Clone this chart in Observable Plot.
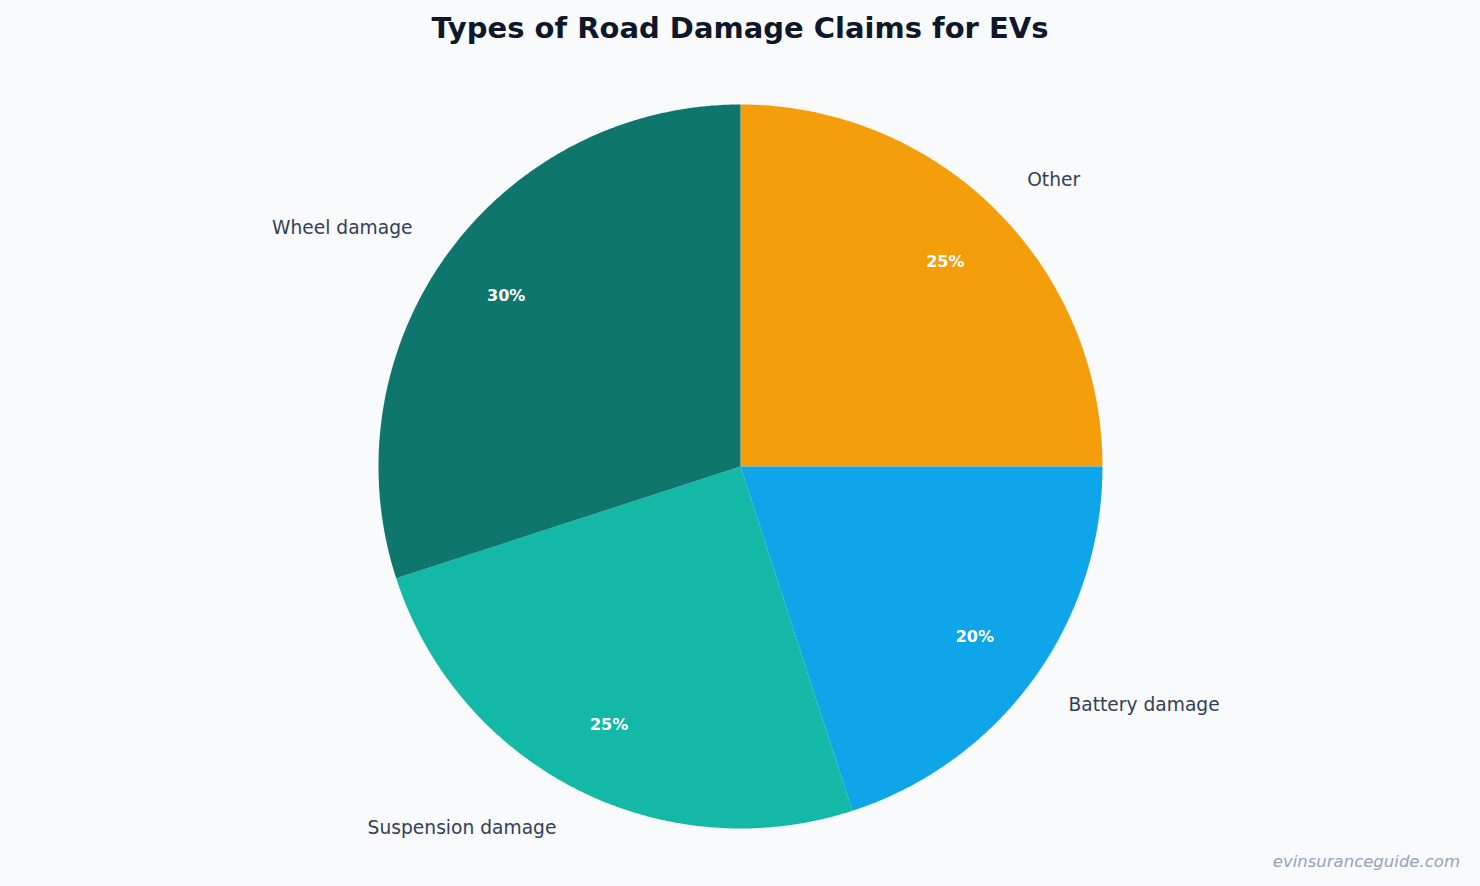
<!DOCTYPE html>
<html>
<head>
<meta charset="utf-8">
<script src="https://cdn.jsdelivr.net/npm/d3@7"></script>
<script src="https://cdn.jsdelivr.net/npm/@observablehq/plot@0.6"></script>
<style>
  html, body { margin: 0; padding: 0; background: #f8fafc; }
  body { width: 1480px; height: 886px; position: relative; overflow: hidden; font-family: "DejaVu Sans", sans-serif; }
  #title { height: 56px; line-height: 56px; text-align: center; font-size: 29px; font-weight: bold; color: #0f172a; }
  #caption { position: absolute; right: 20px; top: 852px; font-size: 16.5px; font-style: italic; color: #94a3b8; }
  svg { display: block; }
</style>
</head>
<body>
<div id="title">Types of Road Damage Claims for EVs</div>
<div id="chart"></div>
<div id="caption">evinsuranceguide.com</div>
<script>
const categories = ["Other", "Battery damage", "Suspension damage", "Wheel damage"];
const values = [25, 20, 25, 30];
const sliceColors = ["#f59e0b", "#0ea5e9", "#14b8a6", "#0f766e"];

const arcs = d3.pie().sort(null).value(d => d)(values);

function slicePolygon(a0, a1) {
  const pts = [[0, 0]];
  const n = Math.max(2, Math.ceil((a1 - a0) / (Math.PI / 360)));
  for (let i = 0; i <= n; i++) {
    const a = a0 + (a1 - a0) * i / n;
    pts.push([Math.sin(a), Math.cos(a)]);
  }
  pts.push([0, 0]);
  return {type: "Polygon", coordinates: [pts]};
}

const slices = arcs.map((a, i) => {
  const mid = (a.startAngle + a.endAngle) / 2;
  return {
    label: categories[i],
    value: values[i],
    geometry: slicePolygon(a.startAngle, a.endAngle),
    ix: 0.8 * Math.sin(mid), iy: 0.8 * Math.cos(mid),
    ox: 1.12 * Math.sin(mid), oy: 1.12 * Math.cos(mid),
    anchor: Math.sin(mid) >= 0 ? "start" : "end"
  };
});

const domain = {type: "MultiPoint", coordinates: [[-1, 0], [1, 0], [0, -1], [0, 1]]};

const chart = Plot.plot({
  width: 1480,
  height: 820,
  marginTop: 48,
  marginBottom: 48,
  marginLeft: 378,
  marginRight: 378,
  style: {background: "#f8fafc", fontFamily: "DejaVu Sans, sans-serif"},
  projection: {type: "reflect-y", domain, clip: false},
  color: {domain: categories, range: sliceColors},
  marks: [
    Plot.geo(slices, {geometry: d => d.geometry, fill: d => d.label, stroke: "none"}),
    Plot.text(slices, {x: "ix", y: "iy", text: d => `${d.value}%`, fill: "white", fontWeight: "bold", fontSize: 16}),
    Plot.text(slices.filter(d => d.anchor === "start"), {x: "ox", y: "oy", text: "label", fill: "#334155", fontSize: 18.67, textAnchor: "start"}),
    Plot.text(slices.filter(d => d.anchor === "end"), {x: "ox", y: "oy", text: "label", fill: "#334155", fontSize: 18.67, textAnchor: "end"})
  ]
});
document.getElementById("chart").appendChild(chart);
</script>
</body>
</html>
